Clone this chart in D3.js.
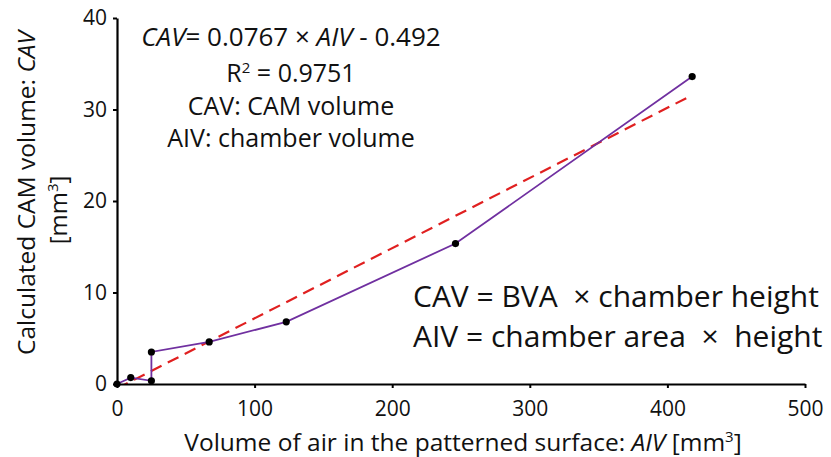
<!DOCTYPE html>
<html><head><meta charset="utf-8">
<script src="https://cdn.jsdelivr.net/npm/d3@7"></script>
<style>
body{margin:0;background:#fff;}
text{font-family:"Open Sans",Lato,sans-serif;fill:#111;}
</style></head>
<body><svg id="c" width="831" height="457"></svg>
<script>
// data
const aiv = [0, 10, 25, 25, 67, 123, 246, 418];
const cav = [0, 0.7, 0.35, 3.5, 4.6, 6.8, 15.35, 33.6];
const xTicks = [0, 100, 200, 300, 400, 500];
const yTicks = [0, 10, 20, 30, 40];
const fitSlope = 0.0767, fitIntercept = -0.492;

const svg = d3.select("#c");
const x = d3.scaleLinear().domain([0, 500]).range([117, 805]);
const y = d3.scaleLinear().domain([0, 40]).range([384, 18]);

const pts = aiv.map((v, i) => [v, cav[i]]);

svg.append("defs").append("clipPath").attr("id", "pc")
  .append("rect").attr("x", 117).attr("y", 10).attr("width", 700).attr("height", 374);

// trend line
const xmax = d3.max(aiv);
const fit = [0, xmax].map(v => [v, fitSlope * v + fitIntercept]);
svg.append("path").attr("clip-path", "url(#pc)")
  .attr("d", d3.line().x(d => x(d[0])).y(d => y(d[1]))(fit))
  .attr("fill", "none").attr("stroke", "#e02020").attr("stroke-width", 2.2)
  .attr("stroke-dasharray", "12,7");

// data line
svg.append("path")
  .attr("d", d3.line().x(d => x(d[0])).y(d => y(d[1]))(pts))
  .attr("fill", "none").attr("stroke", "#7030a0").attr("stroke-width", 1.8);

// axes
const xa = svg.append("g").attr("transform", "translate(0,384)")
  .call(d3.axisBottom(x).tickValues(xTicks).tickSize(4).tickSizeOuter(0).tickPadding(13));
const ya = svg.append("g").attr("transform", "translate(117,0)")
  .call(d3.axisLeft(y).tickValues(yTicks).tickSize(4).tickSizeOuter(0).tickPadding(6));
[xa, ya].forEach(g => {
  g.select(".domain").attr("stroke", "#000").attr("stroke-width", 2.2);
  g.selectAll(".tick line").attr("stroke", "#000").attr("stroke-width", 2);
  g.selectAll(".tick text").style("font-size", "21px").attr("fill", "#111");
});

// markers
svg.selectAll("circle.p").data(pts).join("circle").attr("class", "p")
  .attr("cx", d => x(d[0])).attr("cy", d => y(d[1])).attr("r", 3.6).attr("fill", "#000");

// axis titles
const xt = svg.append("text").attr("x", 463).attr("y", 451).attr("text-anchor", "middle").style("font-size", "24.5px");
xt.append("tspan").text("Volume of air in the patterned surface: ");
xt.append("tspan").attr("font-style", "italic").text("AIV");
xt.append("tspan").text(" [mm");
xt.append("tspan").attr("dy", -9).style("font-size", "15px").text("3");
xt.append("tspan").attr("dy", 9).text("]");

const yt = svg.append("text").attr("transform", "translate(35,193) rotate(-90)").attr("text-anchor", "middle").style("font-size", "24.5px");
yt.append("tspan").text("Calculated CAM volume: ");
yt.append("tspan").attr("font-style", "italic").text("CAV");
const yt2 = svg.append("text").attr("transform", "translate(67,210) rotate(-90)").attr("text-anchor", "middle").style("font-size", "24px");
yt2.append("tspan").text("[mm");
yt2.append("tspan").attr("dy", -9).style("font-size", "15px").text("3");
yt2.append("tspan").attr("dy", 9).text("]");

// equation block
const eq = svg.append("text").attr("x", 291).attr("y", 46).attr("text-anchor", "middle").style("font-size", "26px");
eq.append("tspan").attr("font-style", "italic").text("CAV");
eq.append("tspan").text("= " + fitSlope + " × ");
eq.append("tspan").attr("font-style", "italic").text("AIV");
eq.append("tspan").text(" - " + Math.abs(fitIntercept));
const r2 = svg.append("text").attr("x", 291).attr("y", 82).attr("text-anchor", "middle").style("font-size", "25px");
r2.append("tspan").text("R");
r2.append("tspan").attr("dy", -9).style("font-size", "15px").text("2");
r2.append("tspan").attr("dy", 9).text(" = 0.9751");
svg.append("text").attr("x", 291).attr("y", 115).attr("text-anchor", "middle").style("font-size", "25px").text("CAV: CAM volume");
svg.append("text").attr("x", 291).attr("y", 147).attr("text-anchor", "middle").style("font-size", "25px").text("AIV: chamber volume");

// formula annotation
svg.append("text").attr("x", 413).attr("y", 307).style("font-size", "30px").style("white-space", "pre").text("CAV = BVA  \u00d7 chamber height");
svg.append("text").attr("x", 413).attr("y", 347).style("font-size", "30px").style("white-space", "pre").text("AIV = chamber area  \u00d7  height");
</script></body></html>
